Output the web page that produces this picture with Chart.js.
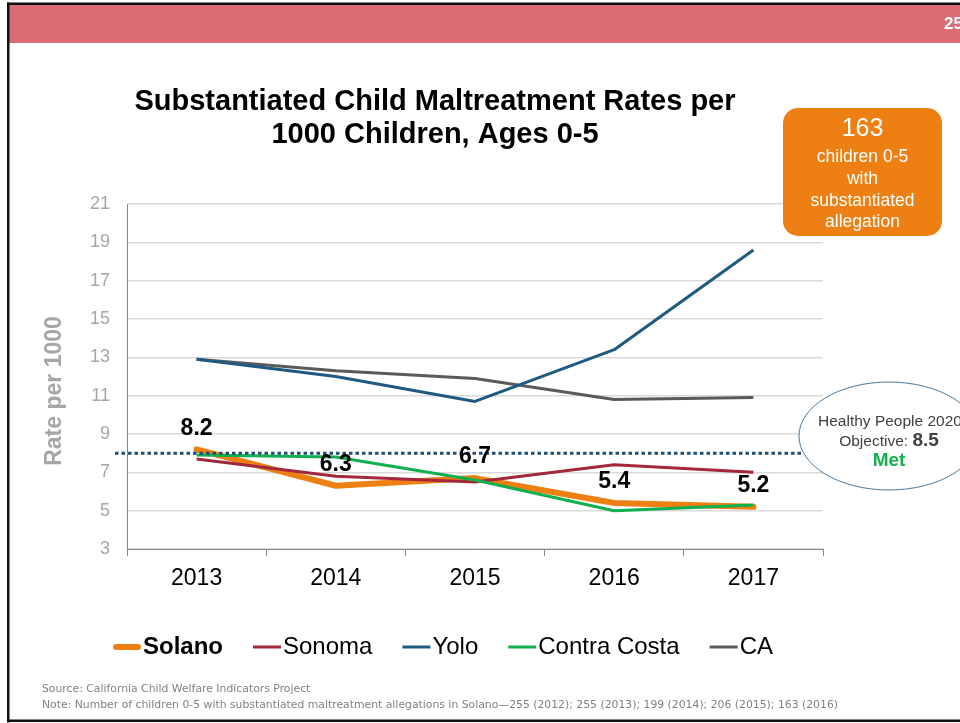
<!DOCTYPE html>
<html>
<head>
<meta charset="utf-8">
<script src="https://cdn.jsdelivr.net/npm/chart.js@4.4.1/dist/chart.umd.min.js"></script>
<style>
  html, body { margin: 0; padding: 0; background: #ffffff; }
  #wrap { width: 960px; height: 723px; position: relative; }
</style>
</head>
<body>
<div id="wrap"><canvas id="c" width="960" height="723"></canvas></div>
<script>
// ---- Data ----
const years = ['2013', '2014', '2015', '2016', '2017'];
const seriesNames = ['Solano', 'Sonoma', 'Yolo', 'Contra Costa', 'CA'];
const solano = [8.2, 6.3, 6.7, 5.4, 5.2];
const sonoma = [7.7, 6.8, 6.5, 7.4, 7.0];
const yolo = [12.9, 12.0, 10.7, 13.4, 18.6];
const contraCosta = [7.9, 7.8, 6.6, 5.0, 5.3];
const ca = [12.9, 12.3, 11.9, 10.8, 10.9];
const solanoLabels = ['8.2', '6.3', '6.7', '5.4', '5.2'];
const yMin = 3, yMax = 21, yStep = 2;
const objectiveLine = 8.0;
const titleLines = ['Substantiated Child Maltreatment Rates per', '1000 Children, Ages 0-5'];
const yTitle = 'Rate per 1000';
const boxNumber = '163';
const boxLines = ['children 0-5', 'with', 'substantiated', 'allegation'];
const objectiveLabel1 = 'Healthy People 2020';
const objectiveLabel2 = 'Objective: ';
const objectiveValue = '8.5';
const objectiveStatus = 'Met';
const sourceText = 'Source: California Child Welfare Indicators Project';
const noteText = 'Note: Number of children 0-5 with substantiated maltreatment allegations in Solano\u2014255 (2012); 255 (2013); 199 (2014); 206 (2015); 163 (2016)';
const pageNumber = '25';

const FONT = '"Liberation Sans", Arial, sans-serif';
const colors = ['#EE7F12', '#A3283C', '#1F5A82', '#10B04E', '#5A5A5A'];
const widths = [6, 3, 3, 3, 3];
const values = [solano, sonoma, yolo, contraCosta, ca];
const orders = [5, 1, 2, 0, 3];

const datasets = seriesNames.map((n, i) => ({
  label: n,
  data: values[i],
  borderColor: colors[i],
  backgroundColor: colors[i],
  borderWidth: widths[i],
  pointRadius: 0,
  tension: 0,
  fill: false,
  order: orders[i],
  borderCapStyle: i === 0 ? 'round' : 'butt',
  borderJoinStyle: 'round'
}));

const decor = {
  id: 'decor',
  beforeDraw(chart) {
    const ctx = chart.ctx;
    ctx.save();
    ctx.fillStyle = '#ffffff';
    ctx.fillRect(0, 0, 960, 723);
    // red header band
    ctx.fillStyle = '#DA6C75';
    ctx.fillRect(9, 5, 951, 38);
    // black frame
    ctx.fillStyle = '#111111';
    ctx.fillRect(7, 2.5, 953, 2.5);
    ctx.fillRect(7, 2.5, 2.5, 720);
    ctx.fillRect(7, 719.5, 953, 2.5);
    // page number
    ctx.fillStyle = '#ffffff';
    ctx.font = 'bold 17px ' + FONT;
    ctx.textAlign = 'left';
    ctx.textBaseline = 'middle';
    ctx.fillText(pageNumber, 944, 24);
    ctx.restore();
  },
  afterDatasetsDraw(chart) {
    const ctx = chart.ctx;
    const ys = chart.scales.y;
    ctx.save();
    // objective dotted line
    const ly = ys.getPixelForValue(objectiveLine);
    ctx.strokeStyle = '#1F4E79';
    ctx.lineWidth = 3;
    ctx.setLineDash([3.5, 3]);
    ctx.beginPath();
    ctx.moveTo(115, ly);
    ctx.lineTo(810, ly);
    ctx.stroke();
    ctx.setLineDash([]);
    // data labels for Solano
    const meta = chart.getDatasetMeta(0);
    ctx.fillStyle = '#000000';
    ctx.font = 'bold 23px ' + FONT;
    ctx.textAlign = 'center';
    ctx.textBaseline = 'middle';
    meta.data.forEach((pt, i) => {
      ctx.fillText(solanoLabels[i], pt.x, pt.y - 21);
    });
    ctx.restore();
  },
  afterDraw(chart) {
    const ctx = chart.ctx;
    ctx.save();
    // title
    ctx.fillStyle = '#000000';
    ctx.font = 'bold 29px ' + FONT;
    ctx.textAlign = 'center';
    ctx.textBaseline = 'middle';
    ctx.fillText(titleLines[0], 435, 102);
    ctx.fillText(titleLines[1], 435, 135);
    // y-axis title
    ctx.save();
    ctx.translate(55, 391);
    ctx.rotate(-Math.PI / 2);
    ctx.fillStyle = '#A6A6A6';
    ctx.font = 'bold 23px ' + FONT;
    ctx.fillText(yTitle, 0, 0);
    ctx.restore();
    // orange box
    ctx.fillStyle = '#EE7F12';
    ctx.beginPath();
    ctx.roundRect(783, 108, 159, 128, 15);
    ctx.fill();
    ctx.fillStyle = '#ffffff';
    ctx.font = '25px ' + FONT;
    ctx.fillText(boxNumber, 862.5, 129);
    ctx.font = '17.5px ' + FONT;
    boxLines.forEach((t, i) => ctx.fillText(t, 862.5, 157.5 + i * 21.7));
    // ellipse
    ctx.fillStyle = '#ffffff';
    ctx.strokeStyle = '#4A7BA0';
    ctx.lineWidth = 1;
    ctx.beginPath();
    ctx.ellipse(889, 436, 90, 54, 0, 0, Math.PI * 2);
    ctx.fill();
    ctx.stroke();
    ctx.fillStyle = '#404040';
    ctx.font = '15.5px ' + FONT;
    ctx.fillText(objectiveLabel1, 890, 422);
    ctx.font = '15.5px ' + FONT;
    const w1 = ctx.measureText(objectiveLabel2).width;
    ctx.font = 'bold 19px ' + FONT;
    const w2 = ctx.measureText(objectiveValue).width;
    const sx = 889 - (w1 + w2) / 2;
    ctx.textAlign = 'left';
    ctx.font = '15.5px ' + FONT;
    ctx.fillText(objectiveLabel2, sx, 442);
    ctx.font = 'bold 19px ' + FONT;
    ctx.fillText(objectiveValue, sx + w1, 441);
    ctx.textAlign = 'center';
    ctx.fillStyle = '#10B04E';
    ctx.font = 'bold 19px ' + FONT;
    ctx.fillText(objectiveStatus, 889, 461);
    // legend
    let x = 113;
    const legY = 647;
    ctx.textAlign = 'left';
    ctx.textBaseline = 'middle';
    seriesNames.forEach((n, i) => {
      ctx.strokeStyle = colors[i];
      ctx.lineWidth = widths[i];
      ctx.lineCap = i === 0 ? 'round' : 'butt';
      ctx.beginPath();
      ctx.moveTo(x + (i === 0 ? 3 : 0), legY);
      ctx.lineTo(x + 28 - (i === 0 ? 3 : 0), legY);
      ctx.stroke();
      x += 30;
      ctx.fillStyle = '#000000';
      ctx.font = (i === 0 ? 'bold ' : '') + '24px ' + FONT;
      ctx.fillText(n, x, legY);
      x += ctx.measureText(n).width + 30;
    });
    // footer
    ctx.fillStyle = '#808080';
    ctx.font = '10px "DejaVu Sans", sans-serif';
    const nw = ctx.measureText(noteText).width;
    const scaleX = 796 / nw;
    ctx.save();
    ctx.translate(42, 0);
    ctx.scale(scaleX, 1);
    ctx.fillText(sourceText, 0, 689);
    ctx.fillText(noteText, 0, 705);
    ctx.restore();
    ctx.restore();
  }
};

new Chart(document.getElementById('c'), {
  type: 'line',
  data: { labels: years, datasets: datasets },
  options: {
    responsive: false,
    animation: false,
    devicePixelRatio: 1,
    layout: { padding: { left: 0, right: 137, top: 204, bottom: 114 } },
    plugins: { legend: { display: false }, title: { display: false }, tooltip: { enabled: false } },
    scales: {
      x: {
        type: 'category',
        offset: true,
        grid: { offset: true, drawOnChartArea: false, drawTicks: true, tickLength: 7, color: '#868686', lineWidth: 1 },
        border: { color: '#868686', width: 1 },
        ticks: { color: '#000000', font: { size: 23, family: FONT }, padding: 9 },
        afterFit(s) { s.height = 60; }
      },
      y: {
        min: yMin,
        max: yMax,
        ticks: { stepSize: yStep, color: '#A6A6A6', font: { size: 18, family: FONT }, padding: 17 },
        grid: { color: '#D9D9D9', lineWidth: 1.5, drawTicks: false },
        border: { color: '#868686', width: 1 },
        afterFit(s) { s.width = 127; }
      }
    }
  },
  plugins: [decor]
});
</script>
</body>
</html>
